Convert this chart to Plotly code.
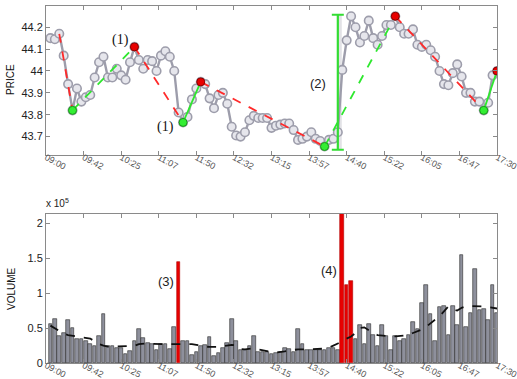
import plotly.graph_objects as go

# --- data -------------------------------------------------------------
TICK_LABELS = ["09:00", "09:42", "10:25", "11:07", "11:50", "12:32", "13:15",
               "13:57", "14:40", "15:22", "16:05", "16:47", "17:30"]
SESSION_MINUTES = 510          # 09:00 -> 17:30
STEP = 5                       # 5-minute bars

PRICE = [44.15, 44.145, 44.17, 44.07, 43.94, 43.82, 43.92, 43.86, 43.88, 43.89,
         43.97, 44.04, 44.065, 43.97, 43.97, 44.01, 43.98, 43.96, 44.04, 44.11,
         44.05, 44.01, 44.05, 44.045, 44.0, 44.07, 44.09, 44.065, 44.0, 43.81,
         43.765, 43.79, 43.87, 43.92, 43.95, 43.94, 43.875, 43.83, 43.89, 43.90,
         43.85, 43.745, 43.705, 43.70, 43.72, 43.775, 43.795, 43.785, 43.785, 43.785,
         43.74, 43.75, 43.755, 43.76, 43.76, 43.73, 43.685, 43.69, 43.70, 43.72,
         43.69, 43.68, 43.655, 43.685, 43.69, 43.72, 44.005, 44.14, 44.25, 44.20,
         44.13, 44.16, 44.23, 44.15, 44.12, 44.16, 44.21, 44.21, 44.25, 44.20,
         44.17, 44.17, 44.19, 44.12, 44.11, 44.12, 44.095, 44.065, 44.0, 43.94,
         43.935, 43.99, 44.03, 43.975, 43.90, 43.90, 43.86, 43.86, 43.82, 43.855,
         43.98, 44.0]

# volume in units of 1e5 shares
VOLUME = [0.56, 0.625, 0.38, 0.43, 0.615, 0.50, 0.35, 0.35, 0.31, 0.27,
          0.25, 0.38, 0.70, 0.25, 0.24, 0.22, 0.21, 0.125, 0.17, 0.32,
          0.48, 0.36, 0.28, 0.27, 0.19, 0.27, 0.27, 0.20, 0.51, 1.45,
          0.32, 0.31, 0.115, 0.16, 0.24, 0.26, 0.37, 0.10, 0.15, 0.21,
          0.28, 0.625, 0.31, 0.19, 0.19, 0.24, 0.38, 0.16, 0.16, 0.16,
          0.13, 0.15, 0.16, 0.22, 0.20, 0.16, 0.48, 0.27, 0.18, 0.19,
          0.19, 0.19, 0.19, 0.21, 0.21, 0.19, 2.25, 1.12, 1.18, 0.34,
          0.54, 0.27, 0.56, 0.40, 0.24, 0.54, 0.38, 0.19, 0.39, 0.31,
          0.34, 0.40, 0.58, 0.48, 0.86, 1.12, 0.70, 0.32, 0.80, 0.82,
          0.40, 0.82, 0.54, 1.55, 0.51, 0.72, 1.35, 0.76, 0.78, 0.62,
          1.12, 0.72]

VOLUME_MA = [0.535, 0.50, 0.46, 0.42, 0.40, 0.39, 0.38, 0.37, 0.36, 0.35,
             0.31, 0.27, 0.25, 0.235, 0.235, 0.235, 0.235, 0.24, 0.24, 0.245,
             0.27, 0.28, 0.28, 0.275, 0.27, 0.27, 0.27, 0.27, 0.27, 0.275,
             0.28, 0.28, 0.27, 0.26, 0.245, 0.235, 0.23, 0.225, 0.23, 0.24,
             0.245, 0.26, 0.25, 0.20, 0.195, 0.20, 0.21, 0.195, 0.18, 0.165,
             0.155, 0.15, 0.155, 0.165, 0.18, 0.19, 0.195, 0.195, 0.195, 0.195,
             0.195, 0.20, 0.205, 0.22, 0.245, 0.28, 0.32, 0.35, 0.38, 0.43,
             0.50, 0.51, 0.47, 0.425, 0.40, 0.39, 0.38, 0.38, 0.38, 0.385,
             0.39, 0.40, 0.43, 0.45, 0.48, 0.52, 0.57, 0.62, 0.67, 0.74,
             0.81, 0.77, 0.75, 0.79, 0.81, 0.815, 0.815, 0.815, 0.81, 0.80,
             0.79, 0.78]

PEAKS = [20, 35, 79, 102]        # 1-based bar numbers
TROUGHS = [6, 31, 63, 99]
# (start, end, colour, dash)
TREND_LEGS = [(3, 6, "red", "dash"), (6, 20, "green", "dash"),
              (20, 31, "red", "dash"), (31, 35, "green", "solid"),
              (35, 63, "red", "dash"), (63, 79, "green", "dash"),
              (79, 99, "red", "dash"), (99, 102, "green", "solid")]
SPIKE_BARS = [30, 67, 68, 69]
BREAKOUT_BAR = 66
BREAKOUT_LOW, BREAKOUT_HIGH = 43.64, 44.257

# --- helpers ----------------------------------------------------------
times = [STEP * (k + 1) for k in range(len(PRICE))]
t_of = lambda n: times[n - 1]
p_of = lambda n: PRICE[n - 1]
tickvals = [SESSION_MINUTES * i / (len(TICK_LABELS) - 1) for i in range(len(TICK_LABELS))]

RED = "#e80000"
GREEN = "#2ee82e"
GREY_LINE = "#9d9dab"
AXIS = "#8a8a8a"

fig = go.Figure()

# price path
fig.add_trace(go.Scatter(
    x=times, y=PRICE, mode="lines+markers",
    line=dict(color=GREY_LINE, width=2.4),
    marker=dict(symbol="circle", size=8.5, color="#e6e6ec",
                line=dict(color=GREY_LINE, width=1.6)),
    xaxis="x", yaxis="y", showlegend=False, hoverinfo="skip"))

# trend legs between turning points
for a, b, col, dash in TREND_LEGS:
    fig.add_trace(go.Scatter(
        x=[t_of(a), t_of(b)], y=[p_of(a), p_of(b)], mode="lines",
        line=dict(color="#ff2a2a" if col == "red" else GREEN, width=1.8, dash=dash),
        xaxis="x", yaxis="y", showlegend=False, hoverinfo="skip"))

# breakout range bar
mid = (BREAKOUT_LOW + BREAKOUT_HIGH) / 2
half = (BREAKOUT_HIGH - BREAKOUT_LOW) / 2
fig.add_shape(type="rect", xref="x", yref="y",
              x0=t_of(BREAKOUT_BAR), x1=t_of(BREAKOUT_BAR + 1) - 0.5,
              y0=BREAKOUT_LOW, y1=BREAKOUT_HIGH,
              fillcolor="#e2e2e6", line=dict(width=0), layer="below")
fig.add_trace(go.Scatter(
    x=[t_of(BREAKOUT_BAR)], y=[mid], mode="markers",
    marker=dict(size=1, color="rgba(0,0,0,0)"),
    error_y=dict(type="constant", value=half, color="#33dd33", thickness=2.2, width=6),
    xaxis="x", yaxis="y", showlegend=False, hoverinfo="skip"))

# turning-point markers
fig.add_trace(go.Scatter(
    x=[t_of(n) for n in TROUGHS], y=[p_of(n) for n in TROUGHS], mode="markers",
    marker=dict(size=8, color="#33ee33", line=dict(color="#1a9a1a", width=1)),
    xaxis="x", yaxis="y", showlegend=False, hoverinfo="skip"))
fig.add_trace(go.Scatter(
    x=[t_of(n) for n in PEAKS], y=[p_of(n) for n in PEAKS], mode="markers",
    marker=dict(size=8, color=RED, line=dict(color="#8a0000", width=1)),
    xaxis="x", yaxis="y", showlegend=False, hoverinfo="skip"))

# volume bars
bar_colors = [RED if (k + 1) in SPIKE_BARS else "#8e909c" for k in range(len(VOLUME))]
bar_lines = ["#b00000" if (k + 1) in SPIKE_BARS else "#2a2a2a" for k in range(len(VOLUME))]
fig.add_trace(go.Bar(
    x=times, y=VOLUME, width=STEP * 0.82,
    marker=dict(color=bar_colors, line=dict(color=bar_lines, width=0.6)),
    xaxis="x2", yaxis="y2", showlegend=False, hoverinfo="skip"))
fig.add_trace(go.Scatter(
    x=times, y=VOLUME_MA, mode="lines",
    line=dict(color="#111111", width=1.8, dash="dash"),
    xaxis="x2", yaxis="y2", showlegend=False, hoverinfo="skip"))

# --- layout -----------------------------------------------------------
W, H = 517, 379
x_dom = [46 / W, 497 / W]
top_dom = [1 - 155 / H, 1 - 6 / H]
bot_dom = [1 - 363 / H, 1 - 214 / H]

tickfont = dict(family="Liberation Sans, Arial, sans-serif", size=11, color="#222")
xtickfont = dict(family="Liberation Sans, Arial, sans-serif", size=9, color="#555")

common_x = dict(range=[0, SESSION_MINUTES], tickmode="array", tickvals=tickvals,
                ticktext=TICK_LABELS, tickangle=28, tickfont=xtickfont,
                ticklabeloverflow="allow", automargin=False, ticklabelstandoff=-7,
                showline=True, linecolor=AXIS, linewidth=1, mirror="ticks",
                ticks="inside", ticklen=4, tickcolor=AXIS, showgrid=False,
                zeroline=False, domain=x_dom)
common_y = dict(showline=True, linecolor=AXIS, linewidth=1, mirror="ticks",
                ticks="inside", ticklen=4, tickcolor=AXIS, showgrid=False,
                zeroline=False, tickfont=tickfont, automargin=False)

fig.update_layout(
    width=W, height=H, margin=dict(l=0, r=0, t=0, b=0, autoexpand=False),
    paper_bgcolor="white", plot_bgcolor="white", bargap=0,
    xaxis=dict(common_x, anchor="y"),
    yaxis=dict(common_y, domain=top_dom, range=[43.616, 44.297],
               tickmode="array", tickvals=[43.7, 43.8, 43.9, 44.0, 44.1, 44.2],
               ticktext=["43.7", "43.8", "43.9", "44", "44.1", "44.2"], anchor="x"),
    xaxis2=dict(common_x, anchor="y2"),
    yaxis2=dict(common_y, domain=bot_dom, range=[0, 2.133],
                tickmode="array", tickvals=[0, 0.5, 1, 1.5, 2],
                ticktext=["0", "0.5", "1", "1.5", "2"], anchor="x2"),
)

label_font = dict(family="Liberation Sans, Arial, sans-serif", size=10, color="#111")
serif = dict(family="Liberation Serif, Times New Roman, serif", size=14, color="#111")
sans = dict(family="Liberation Sans, Arial, sans-serif", size=13, color="#222")

annotations = [
    dict(text="PRICE", xref="paper", yref="paper", x=11 / W, y=1 - 80 / H,
         xanchor="center", yanchor="middle",
         textangle=-90, showarrow=False, font=label_font),
    dict(text="VOLUME", xref="paper", yref="paper", x=11 / W, y=1 - 289 / H,
         xanchor="center", yanchor="middle",
         textangle=-90, showarrow=False, font=label_font),
    dict(text="x 10<sup>5</sup>", xref="paper", yref="paper", x=44 / W, y=1 - 203 / H,
         xanchor="left", showarrow=False,
         font=dict(family="Liberation Sans, Arial, sans-serif", size=10, color="#222")),
    dict(text="(1)", xref="x", yref="y", x=t_of(PEAKS[0]), y=44.142, xshift=-14,
         showarrow=False, font=serif),
    dict(text="(1)", xref="x", yref="y", x=t_of(TROUGHS[1]), y=43.743, xshift=-18,
         showarrow=False, font=serif),
    dict(text="(2)", xref="x", yref="y", x=t_of(BREAKOUT_BAR), y=43.944, xshift=-20,
         showarrow=False, font=sans),
    dict(text="(3)", xref="x2", yref="y2", x=t_of(SPIKE_BARS[0]), y=1.16, xshift=-13,
         showarrow=False, font=sans),
    dict(text="(4)", xref="x2", yref="y2", x=t_of(SPIKE_BARS[1]), y=1.32, xshift=-13,
         showarrow=False, font=sans),
]
fig.update_layout(annotations=annotations)

fig.write_html("out.html")
